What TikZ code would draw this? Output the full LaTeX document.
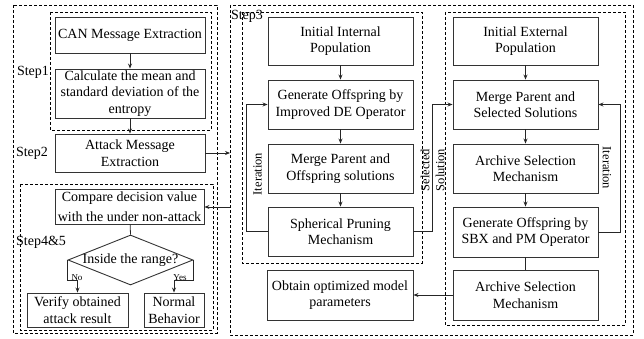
\documentclass[tikz,border=0pt]{standalone}
\usepackage{fontspec}
\setmainfont{Liberation Serif}
\usetikzlibrary{arrows.meta,shapes.geometric}
\begin{document}
\begin{tikzpicture}[x=1pt,y=-1pt,
  box/.style={draw=black!80, line width=0.9pt, rectangle, inner sep=0pt, align=center, font=\fontsize{14}{16.5}\selectfont},
  grp/.style={draw=black, line width=0.7pt, dash pattern=on 3pt off 2pt},
  lbl/.style={font=\fontsize{14}{16.5}\selectfont, inner sep=0pt},
  vlbl/.style={font=\fontsize{12.5}{15}\selectfont, inner sep=0pt, align=center},
  tinylbl/.style={font=\fontsize{9}{10}\selectfont, inner sep=0pt},
  arr/.style={draw=black!85, line width=0.8pt, -{Stealth[length=5pt,width=4pt]}},
  ln/.style={draw=black!85, line width=0.8pt}]
\useasboundingbox (0,0) rectangle (644,339);
% group frames
\draw[grp] (13,5) rectangle (217,333);
\draw[grp] (50,12) rectangle (211,130);
\draw[grp] (20,184) rectangle (213,330);
\draw[grp] (230,5) rectangle (633,335);
\draw[grp] (242,12) rectangle (422,263);
\draw[grp] (445,12) rectangle (625,325);
% step labels
\node[lbl] (s1) at (33,72) {Step1};
\node[lbl] (s2) at (32,153) {Step2};
\node[lbl] (s3) at (247,16) {Step3};
\node[lbl] (s45) at (41,242) {Step4\&5};
% left column
\node[box, minimum width=150pt, minimum height=36pt] (can) at (130,35) {CAN Message Extraction};
\node[box, minimum width=150pt, minimum height=49pt] (calc) at (130,93.5) {Calculate the mean and\\standard deviation of the\\entropy};
\node[box, minimum width=150pt, minimum height=38pt] (attack) at (130,153) {Attack Message\\Extraction};
\node[box, minimum width=149pt, minimum height=35pt] (compare) at (129.5,206.5) {Compare decision value\\[4pt]with the under non-attack};
\node[draw=black!80, line width=0.9pt, diamond, minimum width=125pt, minimum height=50pt, inner sep=0pt, font=\fontsize{14}{16.5}\selectfont] (dia) at (130.5,260) {\makebox[0pt]{Inside the range?}};
\node[box, minimum width=101pt, minimum height=34pt] (verify) at (77.5,310) {Verify obtained\\attack result};
\node[box, minimum width=60pt, minimum height=34pt] (normal) at (174,310) {Normal\\Behavior};
% middle column
\node[box, minimum width=145pt, minimum height=48pt] (initI) at (340.5,41) {Initial Internal\\Population};
\node[box, minimum width=145pt, minimum height=49pt] (genDE) at (340.5,104.5) {Generate Offspring by\\Improved DE Operator};
\node[box, minimum width=145pt, minimum height=49pt] (mergeO) at (340.5,168.5) {Merge Parent and\\Offspring solutions};
\node[box, minimum width=145pt, minimum height=49pt] (sph) at (340.5,231.5) {Spherical Pruning\\Mechanism};
\node[box, minimum width=146pt, minimum height=50pt] (obtain) at (340,295) {Obtain optimized model\\parameters};
% right column
\node[box, minimum width=145pt, minimum height=48pt] (initE) at (525.5,41) {Initial External\\Population};
\node[box, minimum width=145pt, minimum height=49pt] (mergeS) at (525.5,104.5) {Merge Parent and\\Selected Solutions};
\node[box, minimum width=145pt, minimum height=49pt] (arch1) at (525.5,168.5) {Archive Selection\\Mechanism};
\node[box, minimum width=145pt, minimum height=50pt] (genSBX) at (525.5,232) {Generate Offspring by\\SBX and PM Operator};
\node[box, minimum width=145pt, minimum height=50pt] (arch2) at (525.5,295) {Archive Selection\\Mechanism};
% connector ends
\coordinate (a1) at (230,153);
\coordinate (a2) at (230,207);
% connectors left
\draw[arr] (can) -- (calc);
\draw[arr] (calc) -- (attack);
\draw[arr] (attack.east) -- (a1);
\draw[arr] (a2) -- (compare.east |- a2);
\draw[ln] (compare) -- (dia.north);
\draw[arr] (dia.west) -- ++(0,20) -| (verify.north);
\draw[arr] (dia.east) -- ++(0,20) -| (normal.north);
\node[tinylbl] (no) at (77,278) {No};
\node[tinylbl] (yes) at (180,278) {Yes};
% connectors middle
\draw[arr] (initI) -- (genDE);
\draw[arr] (genDE) -- (mergeO);
\draw[arr] (mergeO) -- (sph);
\draw[arr] (sph.west) -- ++(-21,0) |- (genDE.west);
\node[vlbl, rotate=90] (it1) at (257.5,174) {Iteration};
\draw[arr] (sph.east) -- ++(19,0) |- (mergeS.west);
\node[vlbl, rotate=90] (sel) at (432.5,170) {Selected\\Solution};
% connectors right
\draw[arr] (initE) -- (mergeS);
\draw[arr] (mergeS) -- (arch1);
\draw[arr] (arch1) -- (genSBX);
\draw[ln] (genSBX) -- (arch2);
\draw[arr] (genSBX.east) -- ++(22,0) |- (mergeS.east);
\node[vlbl, rotate=-90] (it2) at (607,168) {Iteration};
\draw[arr] (arch2.west) -- (obtain.east);
\end{tikzpicture}
\end{document}
